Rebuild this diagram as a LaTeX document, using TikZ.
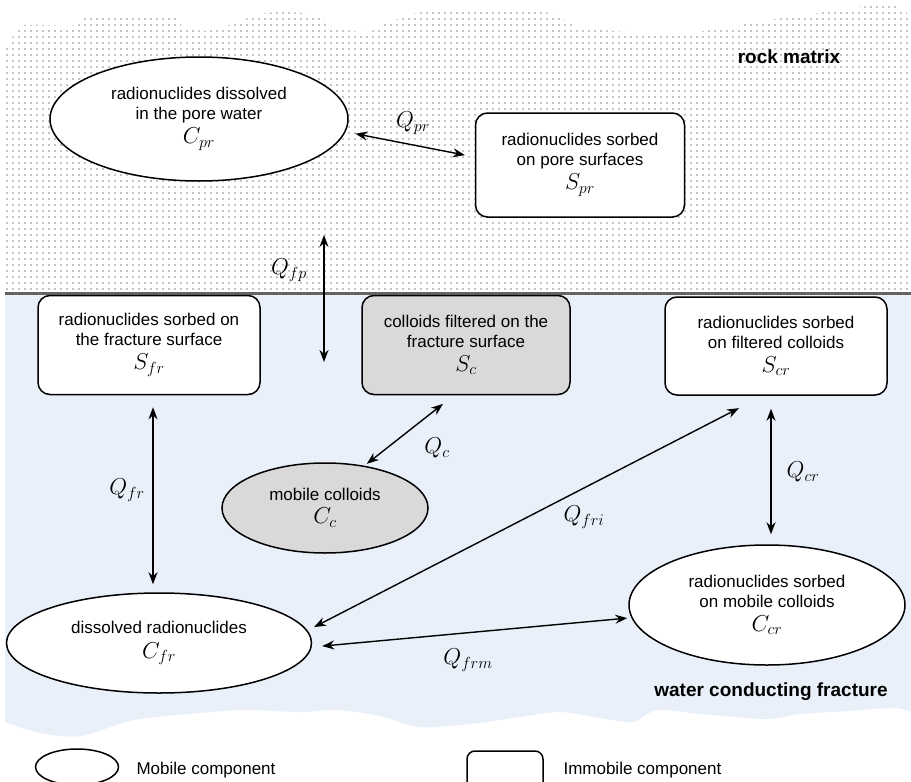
\RequirePackage{fix-cm}
\documentclass[tikz,border=0pt]{standalone}
\usepackage{fontspec}
\setmainfont{Liberation Sans}
\usetikzlibrary{shapes.geometric, arrows.meta, patterns}
\definecolor{waterblue}{RGB}{233, 240, 250}
\definecolor{colloidgray}{RGB}{217, 217, 217}
\definecolor{rockdot}{RGB}{135, 135, 135}
\definecolor{seamgray}{RGB}{100, 100, 100}

\pgfdeclarepatternformonly{rockdots}{\pgfqpoint{-1pt}{-1pt}}{\pgfqpoint{7pt}{7pt}}{\pgfqpoint{6pt}{6pt}}{%
  \pgfpathcircle{\pgfqpoint{1pt}{1pt}}{0.85pt}\pgfusepath{fill}}

\newcommand{\compsym}[1]{{\fontsize{23}{20}\selectfont$#1$}}

\tikzset{
  compbox/.style={draw, line width=1.5pt, rounded corners=12pt, fill=white, align=center,
    font=\fontsize{17}{20}\selectfont},
  compell/.style={draw, ellipse, line width=1.5pt, fill=white, inner sep=0pt, align=center,
    font=\fontsize{17}{20}\selectfont},
  flow/.style={{Stealth[length=12pt,width=9pt]}-{Stealth[length=12pt,width=9pt]}, line width=1.4pt},
  qlabel/.style={font=\fontsize{23}{26}\selectfont},
  zonelabel/.style={font=\fontsize{19}{22}\selectfont\bfseries},
}

\begin{document}
\begin{tikzpicture}[x=1pt, y=-1pt]
  \useasboundingbox (0,0) rectangle (911,782);
  \begin{scope}
    \clip (0,0) rectangle (911,782);

    % rock matrix and fracture
    \fill[pattern=rockdots, pattern color=rockdot] (5,293) -- plot[smooth, tension=0.5] coordinates {
      (5,50) (20,27) (33,25) (77,25) (93,15) (173,17) (183,28) (213,30) (267,13) (317,15)
      (333,27) (367,32) (387,23) (417,13) (460,10) (550,13) (583,28) (683,33) (783,18)
      (877,5) (887,3) (907,13) (911,20)} -- (911,293) -- cycle;
    \fill[waterblue] (5,293) -- (911,293) -- plot[smooth, tension=0.5] coordinates {
      (911,712) (893,708) (850,711) (800,714) (767,719) (700,714) (657,710) (633,722)
      (600,718) (560,712) (520,717) (470,724) (419,727) (380,716) (337,710) (300,712)
      (244,710) (200,713) (134,720) (81,736) (40,733) (5,722)} -- cycle;
    \draw[line width=3pt, seamgray] (5,293) -- (911,293);

    \node[zonelabel] (rockLabel) at (789,57) {rock matrix};
    \node[zonelabel] (waterLabel) at (771,692) {water conducting fracture};

    % compartments
    \node[compell, minimum width=298pt, minimum height=124pt] (Cpr) at (199,119)
      {radionuclides dissolved\\in the pore water\\[4pt]\compsym{C_{pr}}};
    \node[compbox, minimum width=209pt, minimum height=104pt] (Spr) at (580,165)
      {radionuclides sorbed\\on pore surfaces\\[4pt]\compsym{S_{pr}}};
    \node[compbox, minimum width=222pt, minimum height=99pt] (Sfr) at (149,345)
      {radionuclides sorbed on\\the fracture surface\\[4pt]\compsym{S_{fr}}};
    \node[compbox, fill=colloidgray, minimum width=208pt, minimum height=99pt] (Sc) at (466,345)
      {colloids filtered on the\\fracture surface\\[4pt]\compsym{S_c}};
    \node[compbox, minimum width=222pt, minimum height=98pt] (Scr) at (776,346)
      {radionuclides sorbed\\on filtered colloids\\[4pt]\compsym{S_{cr}}};
    \node[compell, fill=colloidgray, minimum width=206pt, minimum height=90pt] (Cc) at (325,508)
      {mobile colloids\\[3pt]\compsym{C_c}};
    \node[compell, minimum width=305pt, minimum height=100pt] (Cfr) at (159,643)
      {dissolved radionuclides\\[5pt]\compsym{C_{fr}}};
    \node[compell, minimum width=276pt, minimum height=120pt] (Ccr) at (767,605)
      {radionuclides sorbed\\on mobile colloids\\[4pt]\compsym{C_{cr}}};

    % exchanges
    \coordinate (fpTop) at (324,235);
    \coordinate (fpBottom) at (324,362);
    \draw[flow] (fpTop) -- (fpBottom);
    \draw[flow, shorten <=10pt, shorten >=10pt] (Cpr.-5) -- ([yshift=8pt]Spr.west);
    \draw[flow, shorten <=12pt, shorten >=8pt] ([xshift=4pt]Sfr.south) -- ([xshift=4pt]Sfr.south |- Cfr.north);
    \draw[flow, shorten <=13pt, shorten >=10pt] ([xshift=-5pt]Scr.south) -- ([xshift=-5pt]Scr.south |- Ccr.north);
    \draw[flow, shorten <=14pt, shorten >=3pt] ([xshift=-12pt]Sc.south) -- (Cc.47);
    \draw[flow, shorten <=2pt, shorten >=27pt] ([yshift=15pt]Cfr.east) -- ([xshift=-13pt]Scr.south);
    \draw[flow, shorten <=10pt, shorten >=1pt] ([yshift=-4pt]Cfr.east) -- ([yshift=-13pt]Ccr.west);

    \node[qlabel] (Qpr) at (413,123) {$Q_{pr}$};
    \node[qlabel] (Qfp) at (289,270) {$Q_{fp}$};
    \node[qlabel] (Qfr) at (127,490) {$Q_{fr}$};
    \node[qlabel] (Qc) at (437,448) {$Q_c$};
    \node[qlabel] (Qfri) at (584,517) {$Q_{fri}$};
    \node[qlabel] (Qcr) at (803,472) {$Q_{cr}$};
    \node[qlabel] (Qfrm) at (468,660) {$Q_{frm}$};

    % legend
    \node[compell, minimum width=83pt, minimum height=36pt] (legMobile) at (77,767) {};
    \node[anchor=west, font=\fontsize{17}{20}\selectfont] (legMobileText) at (133,770) {Mobile component};
    \node[compbox, rounded corners=8pt, minimum width=76pt, minimum height=44pt] (legImmobile) at (505,773) {};
    \node[anchor=west, font=\fontsize{17}{20}\selectfont] (legImmobileText) at (560,770) {Immobile component};
  \end{scope}
\end{tikzpicture}
\end{document}
